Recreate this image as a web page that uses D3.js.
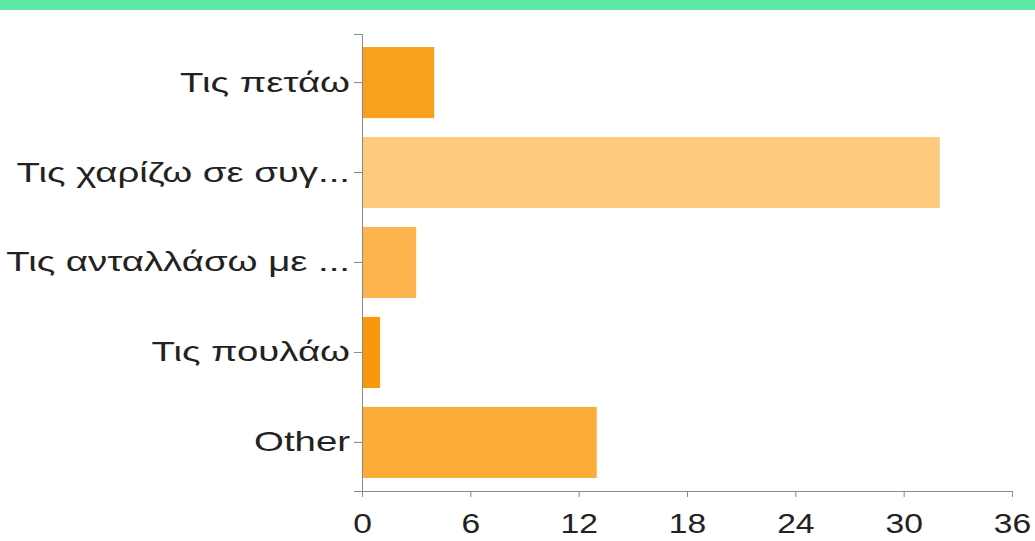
<!DOCTYPE html>
<html>
<head>
<meta charset="utf-8">
<script src="https://cdn.jsdelivr.net/npm/d3@7"></script>
<style>
  body { margin: 0; background: #fff; }
  text { font-family: "Liberation Sans", Arial, Helvetica, sans-serif; fill: #222; }
</style>
</head>
<body>
<div id="chart"></div>
<script>
var categories = ["Τις πετάω", "Τις χαρίζω σε συγ...", "Τις ανταλλάσω με ...", "Τις πουλάω", "Other"];
var values = [4, 32, 3, 1, 13];
var barColors = ["#f9a11f", "#fdca7e", "#fdb44f", "#f7990b", "#fbac39"];
var xTicks = [0, 6, 12, 18, 24, 30, 36];

var svg = d3.select("#chart")
    .append("svg")
    .attr("width", 1035)
    .attr("height", 541)

// green strip along the top
svg.append("rect")
    .attr("x", 0).attr("y", 0)
    .attr("width", 1035).attr("height", 10)
    .style("fill", "#5deaa8")

var x = d3.scaleLinear()
    .domain([0, 36])
    .range([362, 1012])

var y = d3.scaleBand()
    .domain(categories)
    .range([34, 491])
    .paddingInner(0.21)
    .paddingOuter(0.145)

svg.append("g")
    .selectAll("rect")
    .data(values)
    .enter()
    .append("rect")
    .attr("x", x(0))
    .attr("y", function(d, i) { return y(categories[i]); })
    .attr("width", function(d) { return x(d) - x(0); })
    .attr("height", y.bandwidth())
    .style("fill", function(d, i) { return barColors[i]; })

// the original picture is stretched sideways, so the labels get stretched too
var yStretch = 1.37, xStretch = 1.2

var yAxis = svg.append("g")
    .attr("transform", "translate(" + x(0) + ",0)")
    .call(d3.axisLeft(y).tickSizeOuter(0).tickSize(8).tickPadding(3))
yAxis.selectAll("text")
    .style("font-size", "28px")
    .attr("x", -12 / yStretch)
    .attr("transform", "scale(" + yStretch + ",1)")
yAxis.selectAll("line, path").style("stroke", "#888")

var xAxis = svg.append("g")
    .attr("transform", "translate(0," + y.range()[1] + ")")
    .call(d3.axisBottom(x).tickValues(xTicks).tickSize(6).tickSizeOuter(6).tickPadding(16))
xAxis.selectAll("text")
    .style("font-size", "28px")
    .attr("transform", "scale(" + xStretch + ",1)")
xAxis.selectAll("line, path").style("stroke", "#888")
</script>
</body>
</html>
